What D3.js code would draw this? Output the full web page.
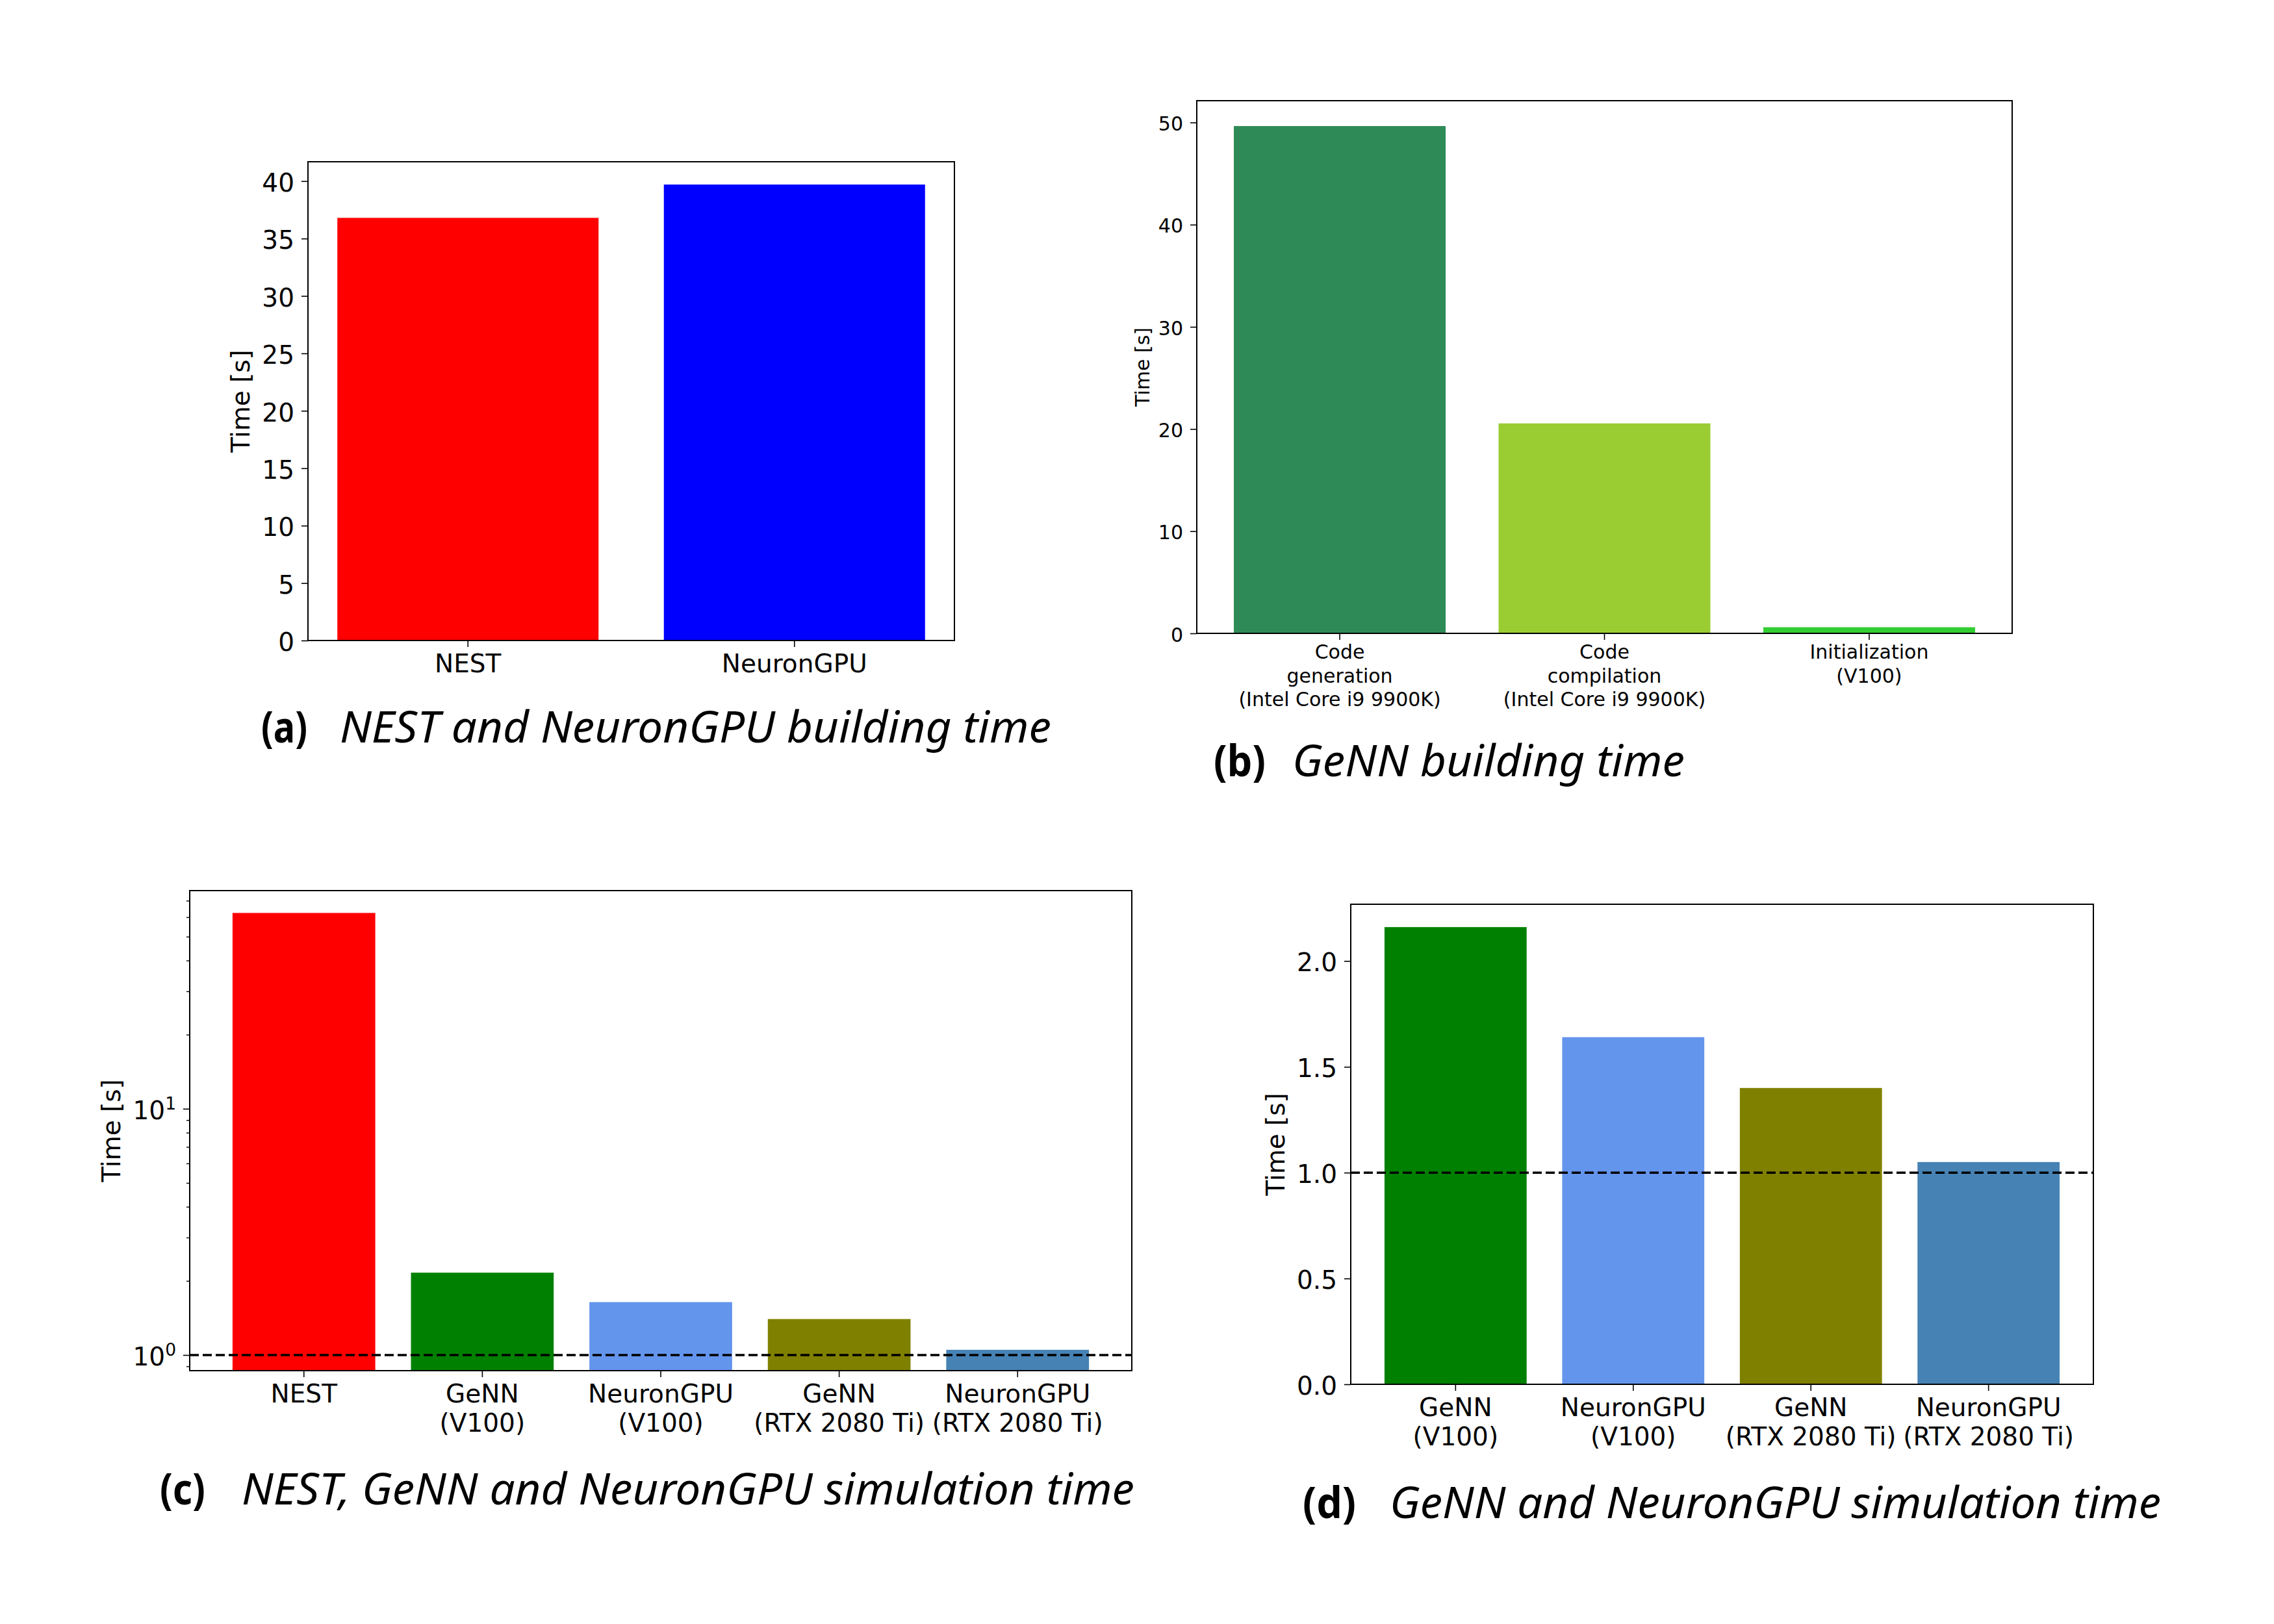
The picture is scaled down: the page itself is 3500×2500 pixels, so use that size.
<!DOCTYPE html>
<html>
<head>
<meta charset="utf-8">
<script src="https://cdn.jsdelivr.net/npm/d3@7"></script>
<style>
body{margin:0;background:white}
svg{display:block}
</style>
</head>
<body>
<svg></svg>
<script>
var w = 3500
var h = 2500

// (a) NEST / NeuronGPU building time
var catsA = ["NEST", "NeuronGPU"]
var valsA = [36.8, 39.7]
var colorsA = ["#ff0000", "#0000ff"]
var ticksA = [0, 5, 10, 15, 20, 25, 30, 35, 40]

// (b) GeNN building time
var catsB = ["Code\ngeneration\n(Intel Core i9 9900K)", "Code\ncompilation\n(Intel Core i9 9900K)", "Initialization\n(V100)"]
var valsB = [49.65, 20.55, 0.6]
var colorsB = ["#2e8b57", "#9acd32", "#32cd32"]
var ticksB = [0, 10, 20, 30, 40, 50]

// (c) simulation time, log axis
var catsC = ["NEST", "GeNN\n(V100)", "NeuronGPU\n(V100)", "GeNN\n(RTX 2080 Ti)", "NeuronGPU\n(RTX 2080 Ti)"]
var valsC = [62.4, 2.16, 1.64, 1.40, 1.05]
var colorsC = ["#ff0000", "#008000", "#6495ed", "#808000", "#4682b4"]
var majorTicksC = [1, 10]
var minorTicksC = [0.9, 2, 3, 4, 5, 6, 7, 8, 9, 20, 30, 40, 50, 60, 70]
var limitsC = [0.864, 76.9]

// (d) GeNN / NeuronGPU simulation time
var catsD = ["GeNN\n(V100)", "NeuronGPU\n(V100)", "GeNN\n(RTX 2080 Ti)", "NeuronGPU\n(RTX 2080 Ti)"]
var valsD = [2.16, 1.64, 1.40, 1.05]
var colorsD = ["#008000", "#6495ed", "#808000", "#4682b4"]
var ticksD = [0, 0.5, 1.0, 1.5, 2.0]

var refLine = 1

var captionTags = ["(a)", "(b)", "(c)", "(d)"]
var captionTexts = ["NEST and NeuronGPU building time", "GeNN building time",
	"NEST, GeNN and NeuronGPU simulation time", "GeNN and NeuronGPU simulation time"]

var svg = d3.select("svg")
	.attr("width", w)
	.attr("height", h)
	.style("background-color", "white")

var tickFont = "DejaVu Sans, sans-serif"

function drawPanel(p){

	var g = svg.append("g")

	var x = d3.scaleBand()
		.domain(p.cats)
		.range([p.left, p.right])
		.paddingInner(0.2)
		.paddingOuter(0.05 * (p.cats.length - 0.2))

	var y
	if (p.log) {
		y = d3.scaleLog().domain(p.limits).range([p.bottom, p.top])
	} else {
		y = d3.scaleLinear().domain([0, d3.max(p.vals) * 1.05]).range([p.bottom, p.top])
	}
	var base = y.domain()[0]

	g.selectAll("rect.bar")
		.data(p.vals)
		.join("rect")
		.attr("class", "bar")
		.attr("x", function(d, i){ return x(p.cats[i]) })
		.attr("width", x.bandwidth())
		.attr("y", function(d){ return y(d) })
		.attr("height", function(d){ return y(base) - y(d) })
		.attr("fill", function(d, i){ return p.colors[i] })

	if (p.ref) {
		g.append("line")
			.attr("x1", p.left)
			.attr("x2", p.right)
			.attr("y1", y(refLine))
			.attr("y2", y(refLine))
			.attr("stroke", "black")
			.attr("stroke-width", 3.5)
			.attr("stroke-dasharray", "14,6")
	}

	// y axis
	var yAxis = g.append("g")
		.attr("transform", "translate(" + p.left + ",0)")
		.call(d3.axisLeft(y)
			.tickValues(p.log ? majorTicksC : p.ticks)
			.tickSize(10)
			.tickPadding(11)
			.tickFormat(p.fmt || d3.format("d")))
	yAxis.select(".domain").remove()
	yAxis.selectAll(".tick line").attr("stroke", "black").attr("stroke-width", 1.6)
	yAxis.selectAll(".tick text")
		.attr("font-family", tickFont)
		.attr("font-size", p.font)
		.attr("fill", "black")
		.attr("dy", "0.4em")

	if (p.log) {
		yAxis.selectAll(".tick text")
			.text(null)
			.each(function(d){
				var t = d3.select(this)
				t.append("tspan").text("10")
				t.append("tspan")
					.attr("dy", "-0.55em")
					.attr("font-size", p.font * 0.68)
					.text(Math.round(Math.log10(d)))
			})
		var minor = g.append("g")
			.attr("transform", "translate(" + p.left + ",0)")
			.call(d3.axisLeft(y).tickValues(minorTicksC).tickSize(5).tickFormat(""))
		minor.select(".domain").remove()
		minor.selectAll(".tick line").attr("stroke", "black").attr("stroke-width", 1.4)
	}

	// x axis
	var xAxis = g.append("g")
		.attr("transform", "translate(0," + p.bottom + ")")
		.call(d3.axisBottom(x).tickSize(10).tickSizeOuter(0))
	xAxis.select(".domain").remove()
	xAxis.selectAll(".tick line").attr("stroke", "black").attr("stroke-width", 1.6)
	xAxis.selectAll(".tick text")
		.attr("font-family", tickFont)
		.attr("font-size", p.font)
		.attr("fill", "black")
		.attr("dy", null)
		.attr("y", null)
		.text(null)
		.each(function(d){
			var t = d3.select(this)
			d.split("\n").forEach(function(line, k){
				t.append("tspan")
					.attr("x", 0)
					.attr("y", p.xlab + k * p.lineH)
					.text(line)
			})
		})

	// y label
	g.append("text")
		.attr("transform", "translate(" + (p.left - p.ylab) + "," + ((p.top + p.bottom) / 2) + ") rotate(-90)")
		.attr("text-anchor", "middle")
		.attr("font-family", tickFont)
		.attr("font-size", p.font)
		.attr("fill", "black")
		.text("Time [s]")

	// frame
	g.append("rect")
		.attr("x", p.left)
		.attr("y", p.top)
		.attr("width", p.right - p.left)
		.attr("height", p.bottom - p.top)
		.attr("fill", "none")
		.attr("stroke", "black")
		.attr("stroke-width", 2)
}

drawPanel({cats: catsA, vals: valsA, colors: colorsA, ticks: ticksA,
	left: 474, right: 1469, top: 249, bottom: 986, font: 39, xlab: 49, lineH: 45, ylab: 90})

drawPanel({cats: catsB, vals: valsB, colors: colorsB, ticks: ticksB,
	left: 1842, right: 3097, top: 155, bottom: 975, font: 30, xlab: 39, lineH: 36.7, ylab: 73})

drawPanel({cats: catsC, vals: valsC, colors: colorsC, log: true, limits: limitsC, ref: true,
	left: 292, right: 1742, top: 1371, bottom: 2110, font: 39, xlab: 49, lineH: 45, ylab: 107})

drawPanel({cats: catsD, vals: valsD, colors: colorsD, ticks: ticksD, ref: true, fmt: d3.format(".1f"),
	left: 2079, right: 3222, top: 1392, bottom: 2131, font: 39, xlab: 49, lineH: 45, ylab: 102})

// captions under each panel
var capPos = [
	{tag: 402, tagEnd: 473, x: 523, end: 1618, y: 1143},
	{tag: 1868, tagEnd: 1948, x: 1989, end: 2593, y: 1195},
	{tag: 246, tagEnd: 316, x: 372, end: 1746, y: 2316},
	{tag: 2005, tagEnd: 2087, x: 2139, end: 3326, y: 2337}
]

capPos.forEach(function(c, i){
	svg.append("text")
		.attr("x", c.tag)
		.attr("y", c.y)
		.attr("font-family", "Noto Sans, sans-serif")
		.attr("font-weight", "bold")
		.attr("font-size", 67)
		.attr("textLength", c.tagEnd - c.tag)
		.attr("lengthAdjust", "spacingAndGlyphs")
		.text(captionTags[i])
	svg.append("text")
		.attr("x", c.x)
		.attr("y", c.y)
		.attr("font-family", "Noto Sans, sans-serif")
		.attr("font-style", "italic")
		.attr("font-size", 67)
		.attr("textLength", c.end - c.x)
		.attr("lengthAdjust", "spacingAndGlyphs")
		.text(captionTexts[i])
})
</script>
</body>
</html>
